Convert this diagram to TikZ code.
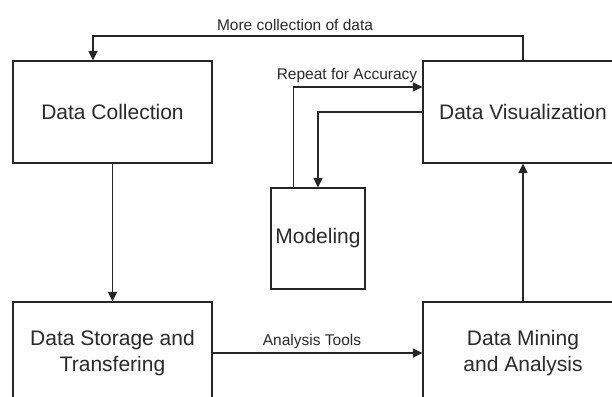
\documentclass[tikz,border=0pt]{standalone}
\usepackage{fontspec}
\setmainfont{Liberation Sans}
\usetikzlibrary{arrows.meta,calc}
\definecolor{ink}{HTML}{262626}
\definecolor{txt}{HTML}{2A2A2A}
\tikzset{
  box/.style={draw=ink, line width=1.2pt, rectangle, inner sep=0pt, align=center,
    text=txt, font=\fontsize{21}{26}\selectfont},
  arr/.style={draw=ink, line width=1.2pt, -{Triangle[length=9.5pt,width=9pt]}},
  lbl/.style={text=txt, font=\fontsize{15.5}{18}\selectfont, inner sep=0pt}
}
\begin{document}
\begin{tikzpicture}[x=1pt,y=-1pt]
\useasboundingbox (0,0) rectangle (612,396);
\clip (0,0) rectangle (612,396);
\fill[white] (0,0) rectangle (612,396);
\node[box, minimum width=199pt, minimum height=102pt] (dc) at (112.5,112) {Data Collection};
\node[box, minimum width=200pt, minimum height=102pt] (dv) at (523,112) {Data Visualization};
\node[box, minimum width=94pt, minimum height=101pt] (mod) at (318,238.5) {Modeling};
\node[box, minimum width=199pt, minimum height=102pt] (ds) at (112.5,353) {Data Storage and\\Transfering};
\node[box, minimum width=200pt, minimum height=102pt] (dm) at (523,353) {Data Mining\\and Analysis};
% connectors
\draw[arr] (dc) -- (ds);
\draw[arr] (ds) -- (dm);
\draw[arr] (dm) -- (dv);
\coordinate (c1) at (93,36);
\draw[arr] (dv.north) |- (c1) -- (c1 |- dc.north);
\draw[arr] (dv.west) -| (mod.north);
\coordinate (r1) at ($(mod.north west)+(23,0)$);
\draw[arr] (r1) |- ([yshift=25pt]dv.west);
% labels
\node[lbl] (l1) at (295,25) {More collection of data};
\node[lbl] (l2) at (347,75) {Repeat for Accuracy};
\node[lbl] (l3) at (312,341) {Analysis Tools};
\end{tikzpicture}
\end{document}
